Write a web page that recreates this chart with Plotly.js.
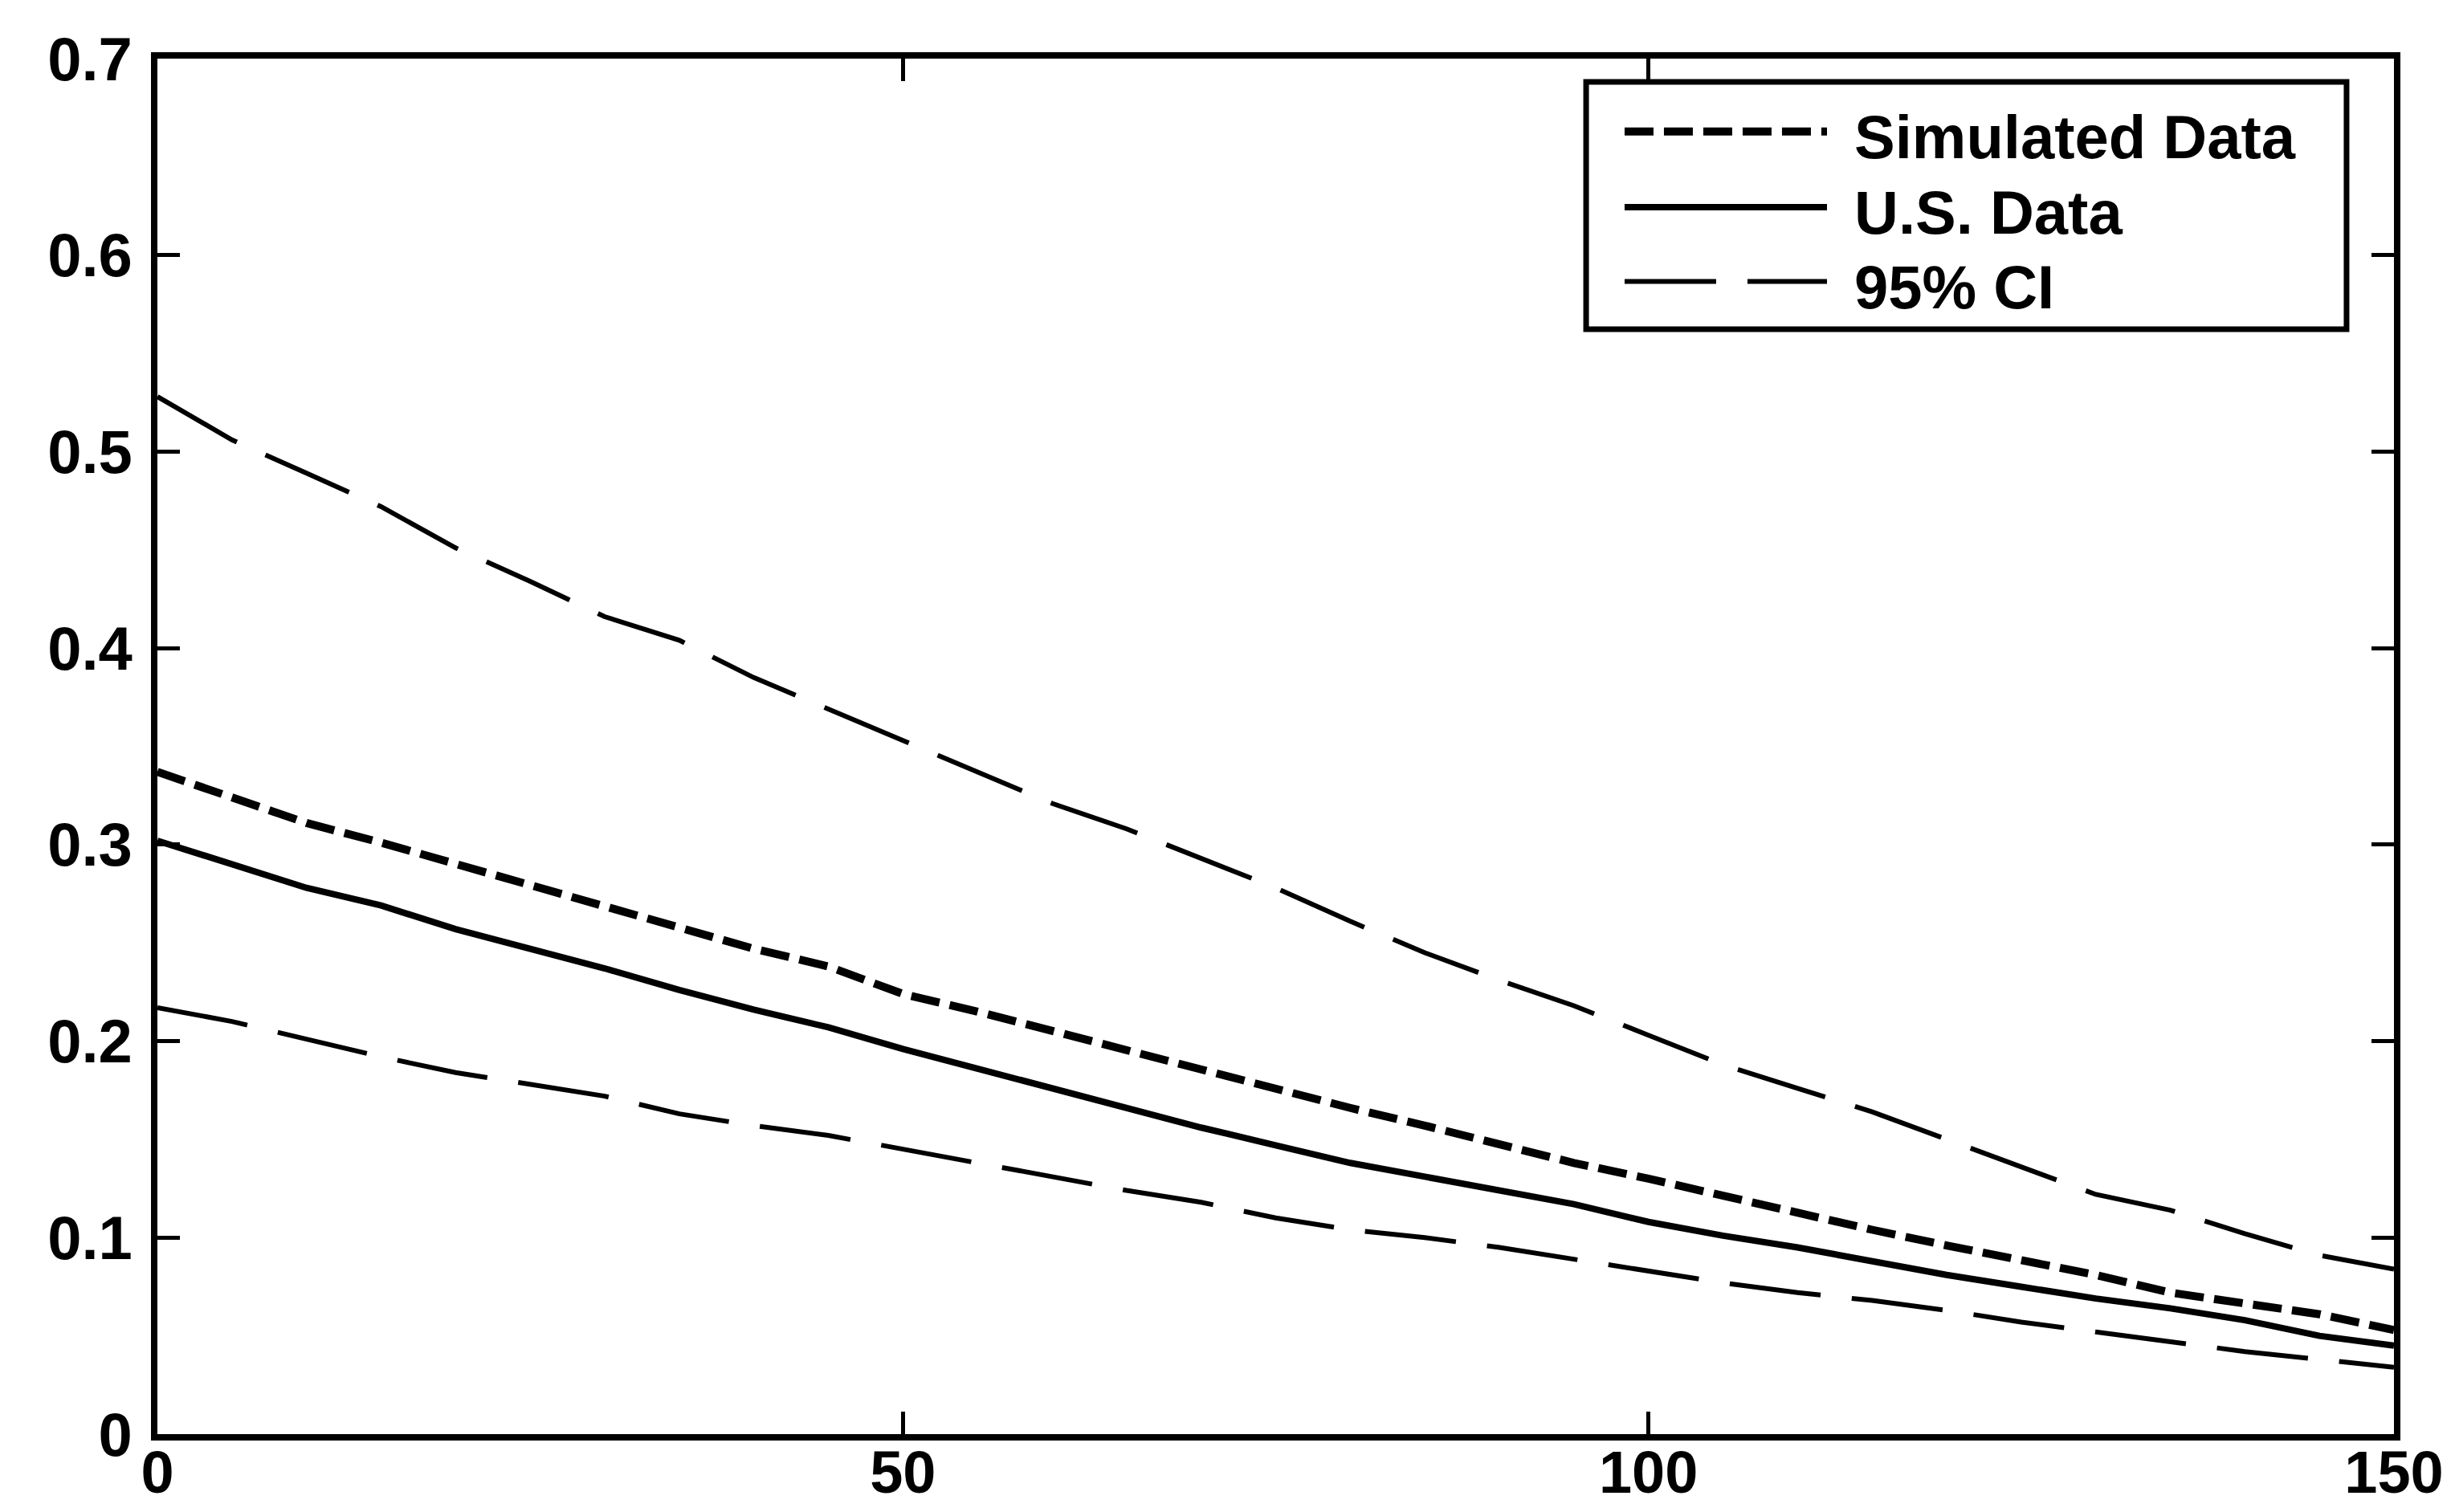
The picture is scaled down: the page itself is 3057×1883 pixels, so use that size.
<!DOCTYPE html>
<html>
<head>
<meta charset="utf-8">
<script src="https://cdn.plot.ly/plotly-3.0.1.min.js"></script>
<style>html,body{margin:0;padding:0;background:#fff;}#chart{width:3057px;height:1883px;}</style>
</head>
<body>
<div id="chart"></div>
<script>
// ---- data ----
const xValues = [0,5,10,15,20,25,30,35,40,45,50,55,60,65,70,75,80,85,90,95,100,105,110,115,120,125,130,135,140,145,150];
const simulatedData = [0.337,0.324,0.311,0.301,0.290,0.279,0.268,0.257,0.247,0.238,0.224,0.215,0.205,0.195,0.186,0.175,0.166,0.157,0.147,0.138,0.130,0.121,0.112,0.104,0.096,0.089,0.081,0.072,0.066,0.061,0.053];
const usData = [0.302,0.290,0.278,0.269,0.257,0.247,0.237,0.226,0.216,0.207,0.196,0.186,0.176,0.166,0.156,0.147,0.138,0.131,0.124,0.117,0.108,0.101,0.095,0.088,0.081,0.075,0.069,0.064,0.058,0.050,0.045];
const ciUpper = [0.528,0.506,0.489,0.472,0.451,0.434,0.416,0.404,0.385,0.369,0.353,0.337,0.321,0.308,0.293,0.278,0.261,0.245,0.231,0.218,0.203,0.188,0.176,0.164,0.150,0.136,0.122,0.114,0.102,0.091,0.084];
const ciLower = [0.217,0.210,0.201,0.192,0.184,0.178,0.172,0.163,0.157,0.152,0.145,0.138,0.131,0.124,0.118,0.110,0.104,0.100,0.095,0.089,0.083,0.077,0.072,0.068,0.063,0.057,0.052,0.047,0.042,0.038,0.034];
const seriesNames = ["Simulated Data", "U.S. Data", "95% CI"];
const xTicks = [0, 50, 100, 150];
const yTicks = [0, 0.1, 0.2, 0.3, 0.4, 0.5, 0.6, 0.7];
const yTickText = ["0", "0.1", "0.2", "0.3", "0.4", "0.5", "0.6", "0.7"];

// ---- styles ----
const styles = {
  sim: {color: "#000", width: 10, dash: "36px,13px"},
  us:  {color: "#000", width: 8, dash: "solid"},
  ci:  {color: "#000", width: 6, dash: "114px,39px"}
};
const FONT = "Liberation Sans, Arial, Helvetica, sans-serif";

const traces = [
  {x: xValues, y: simulatedData, name: seriesNames[0], mode: "lines", line: styles.sim, showlegend: false},
  {x: xValues, y: usData, name: seriesNames[1], mode: "lines", line: styles.us, showlegend: false},
  {x: xValues, y: ciUpper, name: seriesNames[2], mode: "lines", line: styles.ci, showlegend: false},
  {x: xValues, y: ciLower, name: seriesNames[2] + " (lower)", mode: "lines", line: styles.ci, showlegend: false}
];

// custom legend (paper coordinates) to match the wide MATLAB-style samples
const legendBox = {x0: 0.6388, x1: 0.9788, y0: 0.8033, y1: 0.983};
const legendRows = [0.947, 0.892, 0.838];
const legendStyles = [styles.sim, styles.us, styles.ci];
const shapes = [
  {type: "rect", xref: "paper", yref: "paper", x0: legendBox.x0, x1: legendBox.x1, y0: legendBox.y0, y1: legendBox.y1,
   line: {color: "#000", width: 7}, fillcolor: "#fff", layer: "above"}
];
const annotations = [];
seriesNames.forEach((nm, i) => {
  shapes.push({type: "line", xref: "paper", yref: "paper", x0: 0.656, x1: 0.7465, y0: legendRows[i], y1: legendRows[i],
    line: {color: "#000", width: legendStyles[i].width, dash: legendStyles[i].dash}, layer: "above"});
  annotations.push({xref: "paper", yref: "paper", x: 0.758, y: legendRows[i] - 0.004, xanchor: "left", yanchor: "middle",
    text: nm, showarrow: false, font: {family: FONT, size: 76, color: "#000", weight: "bold"}});
});

const axisCommon = {
  showgrid: false, zeroline: false, showline: true, linecolor: "#000", linewidth: 8,
  mirror: "ticks", ticks: "inside", ticklen: 28, tickwidth: 5, tickcolor: "#000",
  tickfont: {family: FONT, size: 76, color: "#000", weight: "bold"}
};

const layout = {
  width: 3057, height: 1883,
  margin: {l: 196, r: 76, t: 73, b: 97, pad: 0},
  paper_bgcolor: "#fff", plot_bgcolor: "#fff",
  showlegend: false,
  xaxis: Object.assign({}, axisCommon, {range: [0, 150], tickmode: "array", tickvals: xTicks, ticktext: xTicks.map(String), ticklabelstandoff: -24,
    tickfont: {family: FONT, size: 74, color: "#000", weight: "bold"}}),
  yaxis: Object.assign({}, axisCommon, {range: [0, 0.7], tickmode: "array", tickvals: yTicks, ticktext: yTickText, ticklabelstandoff: 8}),
  shapes: shapes,
  annotations: annotations
};

Plotly.newPlot("chart", traces, layout, {displayModeBar: false, staticPlot: true});
</script>
</body>
</html>
